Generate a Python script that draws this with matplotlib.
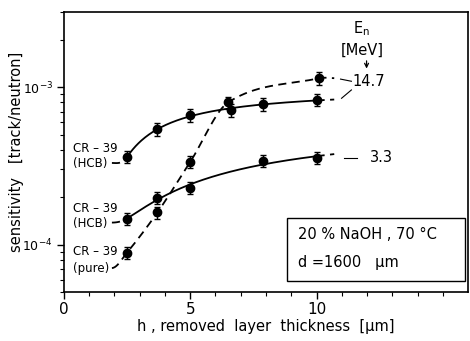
import numpy as np
import matplotlib
matplotlib.use("Agg")
import matplotlib.pyplot as plt
from matplotlib.patches import Rectangle

plt.rcParams['font.family'] = ['DejaVu Sans']
plt.rcParams['mathtext.fontset'] = 'dejavusans'

# ---- data ----
h_hcb = [2.5, 3.7, 5.0, 6.6, 7.9, 10.0]
s_hcb_147 = [3.6e-4, 5.4e-4, 6.65e-4, 7.15e-4, 7.8e-4, 8.3e-4]
h_pure = [2.5, 3.7, 5.0, 6.5, 10.1]
s_pure_147 = [8.9e-5, 1.6e-4, 3.35e-4, 8.0e-4, 1.14e-3]
h_hcb33 = [2.5, 3.7, 5.0, 7.9, 10.0]
s_hcb_33 = [1.46e-4, 1.98e-4, 2.3e-4, 3.4e-4, 3.55e-4]
rel_err = 0.09

# lead-in (label connection) start values
lead_x = 1.9
lead_hcb_147 = 3.3e-4
lead_hcb_33 = 1.38e-4
lead_pure_147 = 7.1e-5
tail_x = 10.7

xticks = [0, 5, 10]
xticklabels = ['0', '5', '10']


def hermite(x, y, m, xn):
    x = np.asarray(x, float); y = np.asarray(y, float); m = np.asarray(m, float)
    n = len(x); h = np.diff(x)
    out = np.empty_like(xn)
    idx = np.clip(np.searchsorted(x, xn) - 1, 0, n - 2)
    for i, xv in enumerate(xn):
        k = idx[i]; t = (xv - x[k]) / h[k]
        h00 = 2 * t**3 - 3 * t**2 + 1; h10 = t**3 - 2 * t**2 + t
        h01 = -2 * t**3 + 3 * t**2; h11 = t**3 - t**2
        out[i] = h00 * y[k] + h10 * h[k] * m[k] + h01 * y[k + 1] + h11 * h[k] * m[k + 1]
    return out


def centred_slopes(x, y):
    n = len(x); m = np.zeros(n)
    for k in range(1, n - 1):
        m[k] = (y[k + 1] - y[k - 1]) / (x[k + 1] - x[k - 1])
    return m


dash = dict(color='black', lw=1.3, dashes=(4.5, 3))
solid = dict(color='black', lw=1.3)


def draw_fit_curve(ax, xs, ys, lead_y):
    """Smooth saturating least-squares trend: log y quadratic in 1/h."""
    xs = np.asarray(xs, float)
    p = np.polyfit(1 / xs, np.log10(ys), 2)
    dp = np.polyder(p)
    f = lambda x: np.polyval(p, 1 / x)
    df = lambda x: np.polyval(dp, 1 / x) * (-1 / x**2)
    x2 = np.linspace(xs[0], xs[-1], 200)
    ax.plot(x2, 10 ** f(x2), **solid)
    x1 = np.linspace(lead_x, xs[0], 30)
    y1 = hermite([lead_x, xs[0]], [np.log10(lead_y), f(xs[0])], [0, df(xs[0])], x1)
    ax.plot(x1, 10 ** y1, **dash)
    x3 = np.linspace(xs[-1], tail_x, 20)
    ax.plot(x3, 10 ** f(x3), **dash)


def draw_interp_curve(ax, xs, ys, lead_y):
    cx = [lead_x] + list(xs) + [tail_x]
    cy = np.log10([lead_y] + list(ys) + [ys[-1]])
    m = centred_slopes(cx, cy)
    xx = np.linspace(lead_x, tail_x, 300)
    ax.plot(xx, 10 ** hermite(cx, cy, m, xx), **dash)


def draw_points(ax, xs, ys):
    ys = np.asarray(ys)
    ax.errorbar(xs, ys, yerr=ys * rel_err, fmt='o', color='black', ms=6,
                elinewidth=1.0, capsize=2, capthick=1.0, zorder=5)


fig = plt.figure(figsize=(4.7, 3.41), dpi=100)
ax = fig.add_axes([0.136, 0.1437, 0.86, 0.821])
ax.set_yscale('log')
ax.set_xlim(0, 16)
ax.set_ylim(5e-5, 3e-3)

draw_fit_curve(ax, h_hcb, s_hcb_147, lead_hcb_147)
draw_interp_curve(ax, h_pure, s_pure_147, lead_pure_147)
draw_fit_curve(ax, h_hcb33, s_hcb_33, lead_hcb_33)
draw_points(ax, h_hcb, s_hcb_147)
draw_points(ax, h_pure, s_pure_147)
draw_points(ax, h_hcb33, s_hcb_33)

ax.set_xticks(xticks)
ax.set_xticklabels(xticklabels)
ax.set_xticks(np.arange(0, 16, 1), minor=True)
ax.set_yticks([1e-4, 1e-3])
ax.set_yticklabels([r'$10^{-4}$', r'$10^{-3}$'])
ax.tick_params(axis='both', which='major', direction='out', length=5, width=1)
ax.tick_params(axis='x', which='major', pad=2, labelsize=11)
ax.tick_params(axis='y', which='major', pad=3, labelsize=9)
ax.tick_params(axis='both', which='minor', direction='out', length=3, width=0.8, labelleft=False)
for s in ax.spines.values():
    s.set_linewidth(1.2)

ax.set_xlabel('h , removed  layer  thickness  [µm]', fontsize=10.5, labelpad=2)
fig.text(17 / 470, 1 - 152 / 341, 'sensitivity   [track/neutron]', fontsize=10.5,
         rotation=90, ha='center', va='center')

fs = 8.5
ax.text(0.35, 4.1e-4, 'CR – 39', fontsize=fs, va='center')
ax.text(0.35, 3.26e-4, '(HCB)', fontsize=fs, va='center')
ax.text(0.35, 1.7e-4, 'CR – 39', fontsize=fs, va='center')
ax.text(0.35, 1.36e-4, '(HCB)', fontsize=fs, va='center')
ax.text(0.35, 9.0e-5, 'CR – 39', fontsize=fs, va='center')
ax.text(0.35, 7.1e-5, '(pure)', fontsize=fs, va='center')

ax.text(11.78, 2.36e-3, r'E$_{\rm n}$', fontsize=10.5, ha='center', va='center')
ax.text(11.82, 1.71e-3, '[MeV]', fontsize=10.5, ha='center', va='center')
ax.annotate('', xy=(11.98, 1.26e-3), xytext=(11.98, 1.53e-3),
            arrowprops=dict(arrowstyle='->', lw=0.9, color='black',
                            mutation_scale=7))
ax.text(11.42, 1.09e-3, '14.7', fontsize=10.5, ha='left', va='center')
ax.plot([10.95, 11.38], [1.125e-3, 1.09e-3], color='black', lw=0.8)
ax.plot([10.99, 11.38], [8.5e-4, 9.6e-4], color='black', lw=0.8)
ax.text(12.1, 3.55e-4, '3.3', fontsize=10.5, ha='left', va='center')
ax.plot([11.1, 11.6], [3.55e-4, 3.55e-4], color='black', lw=0.8)

ax.add_patch(Rectangle((0.552, 0.039), 0.441, 0.225, transform=ax.transAxes,
                       fill=False, lw=1.0, color='black'))
ax.text(0.579, 0.204, '20 % NaOH , 70 °C', transform=ax.transAxes,
        fontsize=10.5, va='center')
ax.text(0.579, 0.107, 'd =1600   µm', transform=ax.transAxes,
        fontsize=10.5, va='center')

fig.savefig('out.png', dpi=100)
